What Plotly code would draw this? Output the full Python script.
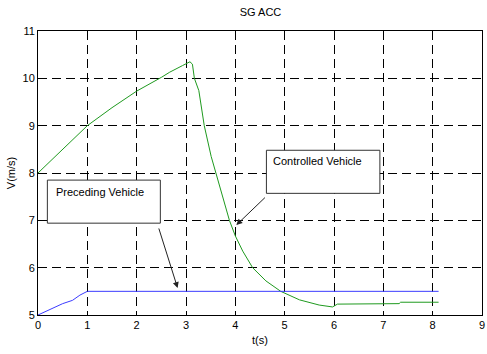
import plotly.graph_objects as go

# Controlled vehicle speed (green)
t_ctrl = [0, 0.5, 1.0, 1.5, 2.0, 2.5, 2.67, 2.93, 3.0, 3.08, 3.13, 3.17, 3.26, 3.37, 3.51,
          3.6, 3.75, 3.88, 4.0, 4.15, 4.35, 4.62, 4.92, 5.3, 5.7, 5.97, 6.07, 6.57, 7.32, 7.35, 8.12]
v_ctrl = [8.0, 8.5, 9.0, 9.38, 9.73, 10.02, 10.13, 10.27, 10.3, 10.35, 10.3, 10.0, 9.74, 9.0, 8.35,
          8.02, 7.45, 7.0, 6.67, 6.35, 6.0, 5.72, 5.5, 5.32, 5.21, 5.17, 5.23, 5.23, 5.24, 5.27, 5.27]

# Preceding vehicle speed (blue)
t_prec = [0, 0.5, 0.7, 0.85, 1.0, 8.12]
v_prec = [5.0, 5.24, 5.31, 5.42, 5.5, 5.5]

x_ticks = [0, 1, 2, 3, 4, 5, 6, 7, 8, 9]
y_ticks = [5, 6, 7, 8, 9, 10, 11]

FONT = "Liberation Sans, Arial, sans-serif"

fig = go.Figure()
fig.add_trace(go.Scatter(x=t_ctrl, y=v_ctrl, mode="lines",
                         line=dict(color="#1f9a1f", width=1), showlegend=False))
fig.add_trace(go.Scatter(x=t_prec, y=v_prec, mode="lines",
                         line=dict(color="#3b3bff", width=1), showlegend=False))

axis_common = dict(showline=True, linecolor="black", linewidth=1, mirror=True,
                   showgrid=True, gridcolor="black", gridwidth=1, griddash="9px,5px",
                   ticks="inside", ticklen=4, tickcolor="black", zeroline=False,
                   automargin=False,
                   tickfont=dict(family=FONT, size=11, color="black"))

fig.update_xaxes(range=[0, 9], tickvals=x_ticks, title=dict(text="t(s)", standoff=6,
                 font=dict(family=FONT, size=11, color="black")), **axis_common)
fig.update_yaxes(range=[5, 11], tickvals=y_ticks, title=dict(text="V(m/s)", standoff=4,
                 font=dict(family=FONT, size=11, color="black")), **axis_common)

# Text boxes
fig.add_shape(type="rect", xref="x", yref="y", x0=4.63, x1=6.93, y0=7.57, y1=8.48,
              line=dict(color="#333333", width=1), fillcolor="white", layer="above")
fig.add_shape(type="rect", xref="x", yref="y", x0=0.19, x1=2.48, y0=6.94, y1=7.85,
              line=dict(color="#333333", width=1), fillcolor="white", layer="above")
fig.add_annotation(x=4.73, y=8.26, xref="x", yref="y", text="Controlled Vehicle",
                   showarrow=False, xanchor="left", yanchor="middle",
                   font=dict(family=FONT, size=11, color="black"))
fig.add_annotation(x=0.33, y=7.6, xref="x", yref="y", text="Preceding Vehicle",
                   showarrow=False, xanchor="left", yanchor="middle",
                   font=dict(family=FONT, size=11, color="black"))
# Arrows
fig.add_annotation(x=4.02, y=6.9, ax=4.63, ay=7.51, xref="x", yref="y", axref="x", ayref="y",
                   text="", showarrow=True, arrowhead=2, arrowsize=1.2, arrowwidth=1,
                   arrowcolor="#222222")
fig.add_annotation(x=2.83, y=5.57, ax=2.44, ay=6.86, xref="x", yref="y", axref="x", ayref="y",
                   text="", showarrow=True, arrowhead=2, arrowsize=1.2, arrowwidth=1,
                   arrowcolor="#222222")

fig.update_layout(
    width=487, height=354,
    margin=dict(l=38, r=5, t=31, b=39, autoexpand=False),
    paper_bgcolor="white", plot_bgcolor="white",
    title=dict(text="SG ACC", x=0.535, xanchor="center", y=0.965, yanchor="middle",
               font=dict(family=FONT, size=11, color="black")),
    font=dict(family=FONT, size=11, color="black"),
)

fig.write_html("out.html", config={"displayModeBar": False},
               post_script="document.body.style.margin='0';document.body.style.overflow='hidden';")
